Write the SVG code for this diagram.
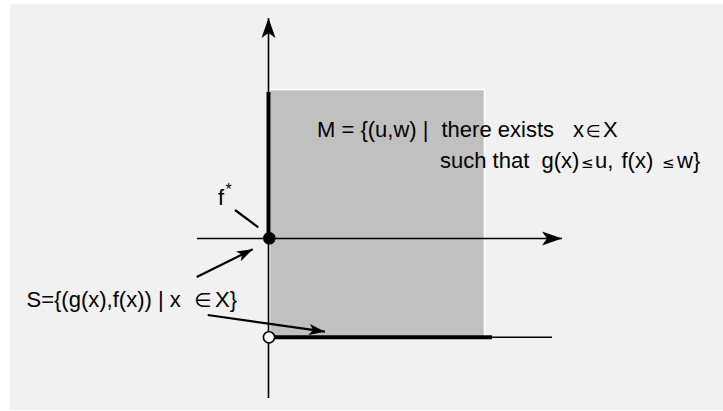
<svg xmlns="http://www.w3.org/2000/svg" width="723" height="411" viewBox="0 0 723 411">
<style>
.t{font-family:"Liberation Sans",Arial,sans-serif;font-size:22px;fill:#000}
.sym{font-family:"DejaVu Sans","Liberation Sans",sans-serif;font-size:17px}
.le{font-family:"DejaVu Sans","Liberation Sans",sans-serif;font-size:15px}
.ax{stroke:#000;stroke-width:1.6;fill:none}
.thick{stroke:#000;stroke-width:4;fill:none}
.ld{stroke:#000;stroke-width:2.2;fill:none}
</style>
<defs>
<marker id="ah" markerUnits="userSpaceOnUse" markerWidth="24" markerHeight="18" refX="20" refY="7" orient="auto" viewBox="0 0 24 14">
<path d="M0,0 L20,7 L0,14 L5,7 Z" fill="#000"/>
</marker>
<marker id="lh" markerUnits="userSpaceOnUse" markerWidth="18" markerHeight="12" refX="16" refY="6" orient="auto" viewBox="0 0 18 12">
<path d="M0,0.5 L16,6 L0,11.5 L4,6 Z" fill="#000"/>
</marker>
</defs>
<rect x="0" y="0" width="723" height="411" fill="#fff"/>
<rect x="10" y="4" width="713" height="406" fill="#f1f1f1"/>
<g id="regionM">
<rect x="269.5" y="89.5" width="215" height="248" fill="#c0c0c0" stroke="#fff" stroke-width="1.5"/>
</g>
<g id="axes">
<line class="ax" x1="268.5" y1="398" x2="268.5" y2="18" marker-end="url(#ah)"/>
<line class="ax" x1="197" y1="238.5" x2="562" y2="238.5" marker-end="url(#ah)"/>
<line class="ax" x1="269" y1="337.3" x2="552" y2="337.3"/>
</g>
<g id="boundaryS">
<line class="thick" x1="268.5" y1="92" x2="268.5" y2="238"/>
<line class="thick" x1="269" y1="337.3" x2="492" y2="337.3"/>
</g>
<g id="fstar">
<circle cx="269.3" cy="238.3" r="6.3" fill="#000"/>
<text class="t" x="218" y="205">f</text>
<text class="t" x="225.5" y="195" style="font-size:16px">*</text>
</g>
<g id="openpoint">
<circle cx="269" cy="337.3" r="5.6" fill="#fff" stroke="#000" stroke-width="1.6"/>
</g>
<g id="labelM">
<text class="t" y="137"><tspan x="573">x</tspan><tspan class="sym" x="586">∈</tspan><tspan x="603">X</tspan><tspan x="317">M = {(u,w) |</tspan><tspan x="441.5">there exists</tspan></text>
<text class="t" y="168"><tspan x="440">such that</tspan><tspan x="541.5">g(x)</tspan><tspan class="le" x="581">≤</tspan><tspan x="595">u,</tspan><tspan x="621.5">f(x)</tspan><tspan class="le" x="662">≤</tspan><tspan x="677">w}</tspan></text>
</g>
<g id="labelS">
<text class="t" y="306.5"><tspan x="26.5">S={(g(x),f(x)) | x</tspan><tspan class="sym" x="194" style="font-size:20px">∈</tspan><tspan x="215">X}</tspan></text>
</g>
<g id="connectors">
<line class="ld" x1="235" y1="210" x2="258.3" y2="227.3"/>
<line class="ld" x1="196.7" y1="277" x2="252.7" y2="249.3" marker-end="url(#lh)"/>
<line class="ld" x1="207.7" y1="315" x2="325" y2="331.7" marker-end="url(#lh)"/>
</g>
</svg>
